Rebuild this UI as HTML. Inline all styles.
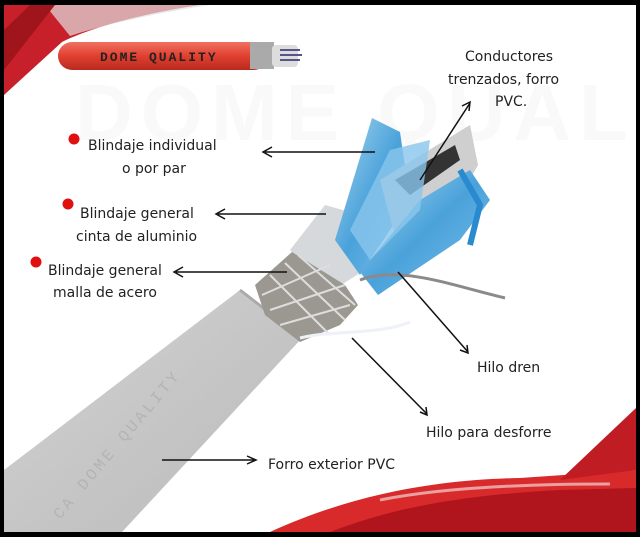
<!DOCTYPE html>
<html><head><meta charset="utf-8"><style>
html,body{margin:0;padding:0;background:#000}
body{width:640px;height:537px;overflow:hidden;position:relative}
svg{position:absolute;left:0;top:0}
.t{font-family:"DejaVu Sans","Liberation Sans",sans-serif;font-size:14px;fill:#222}
</style></head><body>
<svg width="640" height="537" viewBox="0 0 640 537">
<defs>
<linearGradient id="cab" x1="0" y1="0" x2="1" y2="1">
<stop offset="0" stop-color="#d4d4d4"/><stop offset="0.5" stop-color="#c6c6c6"/><stop offset="1" stop-color="#bababa"/></linearGradient>
<linearGradient id="red" x1="0" y1="0" x2="0" y2="1">
<stop offset="0" stop-color="#f07060"/><stop offset="0.5" stop-color="#e04030"/><stop offset="1" stop-color="#b82a1e"/></linearGradient>
<linearGradient id="blu" x1="0" y1="0" x2="1" y2="1">
<stop offset="0" stop-color="#a8d6f0"/><stop offset="0.5" stop-color="#4aa2da"/><stop offset="1" stop-color="#7cc0ea"/></linearGradient>
</defs>
<rect x="4" y="5" width="632" height="527" fill="#fff"/>
<!-- top-left red swoosh -->
<path d="M4 5 L200 5 C140 14 90 28 62 42 L4 95 Z" fill="#c8202a"/>
<path d="M45 5 L210 5 C150 14 100 26 70 36 Z" fill="#e0e0e0" opacity="0.7"/>
<path d="M4 30 L30 5 L55 5 L4 70 Z" fill="#a0141c"/>
<!-- bottom-right red swoosh -->
<path d="M270 532 C340 500 420 480 520 478 L636 470 L636 532 Z" fill="#d82a2a"/>
<path d="M330 532 C400 505 470 495 560 490 L636 488 L636 532 Z" fill="#b0141c"/>
<path d="M560 480 L636 408 L636 470 Z" fill="#c01c24"/>
<path d="M380 500 C440 488 520 484 610 484" stroke="#e8a0a0" stroke-width="3" fill="none"/>
<!-- watermark -->
<text x="75" y="140" font-family="Liberation Sans,sans-serif" font-size="80" font-weight="bold" fill="#f9f9f9" letter-spacing="8">DOME QUALITY</text>
<!-- red cable top -->
<rect x="58" y="42" width="210" height="28" rx="14" fill="url(#red)"/>
<rect x="250" y="42" width="24" height="27" fill="#aaa"/>
<rect x="272" y="45" width="26" height="22" rx="4" fill="#ddd"/>
<path d="M280 50 h20 M280 55 h22 M280 60 h20" stroke="#558" stroke-width="2"/>
<text x="100" y="61" font-family="Liberation Mono,monospace" font-size="13" font-weight="bold" fill="#222" letter-spacing="2">DOME QUALITY</text>
<!-- gray cable -->
<path d="M4 470 L240 290 L302 338 L122 532 L4 532 Z" fill="url(#cab)"/>
<path d="M240 290 L302 338" stroke="#aaa" stroke-width="3"/>
<text transform="translate(60,520) rotate(-50)" font-family="Liberation Mono,monospace" font-size="16" fill="#b4b4b4" letter-spacing="3">CA DOME QUALITY</text>
<!-- foil -->
<path d="M290 250 L325 205 L350 212 L368 268 L330 292 Z" fill="#d6d9dc"/>
<!-- braid -->
<path d="M255 285 L292 252 L345 285 L358 305 L340 325 L300 342 L265 315 Z" fill="#9a9890"/>
<path d="M262 295 L330 265 M270 310 L345 285 M280 325 L350 305 M270 275 L330 335 M285 263 L345 320 M298 255 L355 305" stroke="#ddd" stroke-width="2"/>
<!-- blue foils -->
<path d="M335 240 L372 118 L400 132 L410 200 L360 275 Z" fill="url(#blu)"/>
<path d="M380 180 L470 125 L478 165 L450 215 L400 255 Z" fill="#cfcfcf"/>
<path d="M395 180 L455 145 L460 160 L410 195 Z" fill="#333"/>
<path d="M360 272 L420 200 L470 170 L490 200 L460 240 L378 295 Z" fill="url(#blu)"/>
<path d="M350 230 L390 150 L430 140 L420 210 L370 260 Z" fill="#8ac6ec" opacity="0.8"/>
<path d="M460 170 L480 205 L470 245" stroke="#2a8ad0" stroke-width="6" fill="none"/>
<!-- drain wire -->
<path d="M360 280 C400 265 450 285 505 298" stroke="#8a8a8a" stroke-width="3" fill="none"/>
<!-- white thread -->
<path d="M300 338 C330 330 380 335 410 322" stroke="#eef2f8" stroke-width="3" fill="none"/>
<!-- arrows -->
<g stroke="#111" stroke-width="1.5" fill="none">
<path d="M375 152 L265 152 M272 147 L263 152 L272 157"/>
<path d="M326 214 L218 214 M225 209 L216 214 L225 219"/>
<path d="M287 272 L176 272 M183 267 L174 272 L183 277"/>
<path d="M420 180 L470 103 M462 106 L470 102 L469 111"/>
<path d="M398 272 L468 352 M460 350 L468 353 L467 345"/>
<path d="M352 338 L427 414 M420 412 L427 415 L426 407"/>
<path d="M162 460 L254 460 M247 456 L256 460 L247 464"/>
</g>
<!-- bullets -->
<circle cx="74" cy="139" r="5.5" fill="#e01010"/>
<circle cx="68" cy="204" r="5.5" fill="#e01010"/>
<circle cx="36" cy="262" r="5.5" fill="#e01010"/>
<!-- labels -->
<text class="t" x="88" y="150">Blindaje individual</text>
<text class="t" x="122" y="173">o por par</text>
<text class="t" x="80" y="218">Blindaje general</text>
<text class="t" x="76" y="241">cinta de aluminio</text>
<text class="t" x="48" y="275">Blindaje general</text>
<text class="t" x="53" y="297">malla de acero</text>
<text class="t" x="465" y="61">Conductores</text>
<text class="t" x="448" y="84">trenzados, forro</text>
<text class="t" x="495" y="106">PVC.</text>
<text class="t" x="477" y="372">Hilo dren</text>
<text class="t" x="426" y="437">Hilo para desforre</text>
<text class="t" x="268" y="469">Forro exterior PVC</text>
</svg>
</body></html>
